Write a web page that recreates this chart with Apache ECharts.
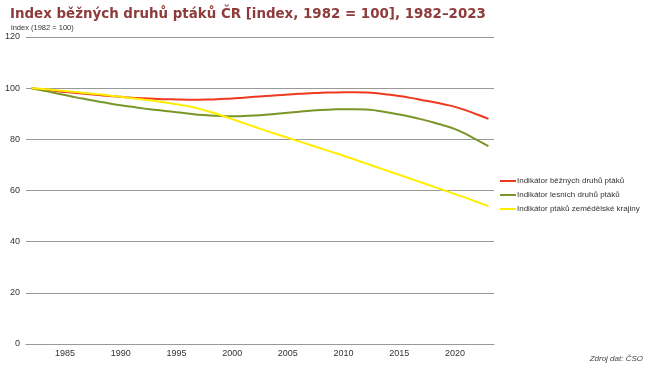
<!DOCTYPE html>
<html><head><meta charset="utf-8">
<script src="https://cdn.jsdelivr.net/npm/echarts@6/dist/echarts.min.js"></script>
<style>html,body{margin:0;padding:0;background:#fff}#c{width:652px;height:371px}</style>
</head><body><div id="c"></div>
<script>
var years = [];
for (var y = 1982; y <= 2023; y++) years.push(String(y));
var seriesNames = ['Indikátor běžných druhů ptáků','Indikátor lesních druhů ptáků','Indikátor ptáků zemědělské krajiny'];
var common = [100,99.5,99,98.5,98.1,97.7,97.3,96.9,96.6,96.3,96.1,95.9,95.7,95.6,95.5,95.5,95.6,95.8,96.0,96.3,96.6,96.9,97.2,97.5,97.8,98.0,98.2,98.3,98.4,98.4,98.3,98.0,97.5,96.9,96.2,95.4,94.6,93.7,92.7,91.3,89.7,88.0];
var forest = [100,99.1,98.2,97.3,96.4,95.6,94.8,94.0,93.3,92.7,92.1,91.6,91.1,90.6,90.1,89.6,89.3,89.1,89.0,89.1,89.3,89.6,90.0,90.4,90.8,91.2,91.5,91.7,91.8,91.8,91.7,91.2,90.5,89.7,88.8,87.8,86.7,85.4,84.0,82.0,79.7,77.3];
var farmland = [100,99.7,99.3,98.9,98.5,98.0,97.6,97.1,96.6,96.1,95.6,95.0,94.4,93.7,93.0,92.0,90.8,89.4,87.9,86.4,84.9,83.4,82.0,80.6,79.2,77.8,76.4,75.0,73.6,72.1,70.6,69.1,67.6,66.1,64.6,63.1,61.6,60.1,58.6,57.1,55.5,53.9];
var colors = ['#f0381e','#7a9528','#ffee00'];
var chart = echarts.init(document.getElementById('c'));
var font = 'Liberation Sans, Arial, sans-serif';
chart.setOption({
  animation:false,
  color: colors,
  title:[{text:'Index běžných druhů ptáků ČR [index, 1982 = 100], 1982–2023',left:5,top:3,textStyle:{fontFamily:'DejaVu Sans',fontSize:13.4,fontWeight:'bold',color:'#8e3b3b'}},
         {text:'index (1982 = 100)',left:6,top:19,textStyle:{fontFamily:font,fontSize:7.5,fontWeight:'normal',color:'#333'}},
         {text:'Zdroj dat: ČSO',right:4,top:350,textStyle:{fontFamily:font,fontSize:8,fontStyle:'italic',fontWeight:'normal',color:'#444'}}],
  grid:{left:26,right:158,top:37,bottom:27,containLabel:false},
  legend:{orient:'vertical',left:495,top:172,itemWidth:16,itemHeight:2,itemGap:6,icon:'rect',
    textStyle:{fontFamily:font,fontSize:8,color:'#333',padding:[0,0,0,-4]},data:seriesNames},
  xAxis:{type:'category',data:years,boundaryGap:true,
    axisLine:{lineStyle:{color:'#999',width:1}},axisTick:{show:false},
    axisLabel:{fontFamily:font,fontSize:9,color:'#333',margin:5,interval:0,
      formatter:function(v){return (+v)%5===0?v:'';}}},
  yAxis:{type:'value',min:0,max:120,interval:20,
    axisLine:{show:false},axisTick:{show:false},
    axisLabel:{fontFamily:font,fontSize:9,color:'#333',margin:6},
    splitLine:{lineStyle:{color:'#999',width:1}}},
  series:[
    {name:seriesNames[0],type:'line',data:common,smooth:true,showSymbol:false,lineStyle:{width:2}},
    {name:seriesNames[1],type:'line',data:forest,smooth:true,showSymbol:false,lineStyle:{width:2}},
    {name:seriesNames[2],type:'line',data:farmland,smooth:true,showSymbol:false,lineStyle:{width:2}}
  ]
});
</script></body></html>
